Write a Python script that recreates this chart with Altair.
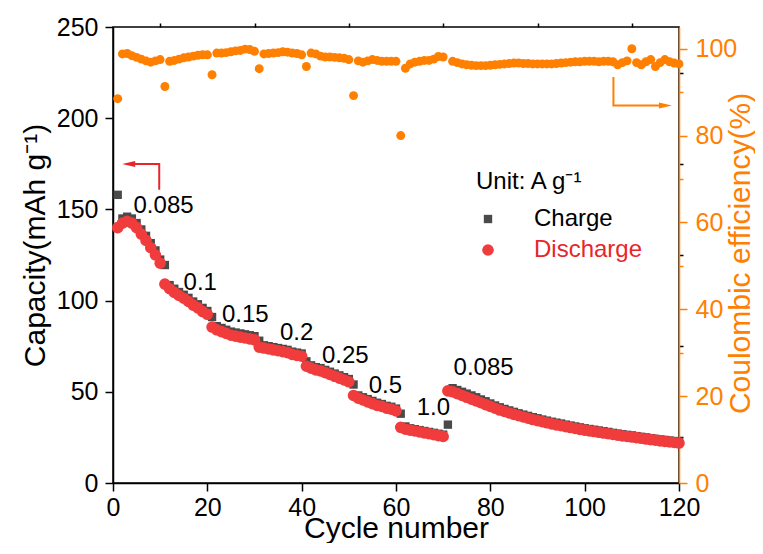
import altair as alt
import pandas as pd

# ---------------- data ----------------
cycles = list(range(1, 121))

discharge = [
    140, 142.5, 143.5, 142.5, 140, 136.5, 133, 129, 125, 120.5,
    109, 106.5, 104.5, 102.8, 101.3, 99.5, 97.5, 96, 94, 92.5,
    85.5, 84, 83, 82, 81, 80.5, 80, 79.5, 79, 78.5,
    74.5, 74, 73.5, 73, 72.5, 72, 71.5, 70.5, 70, 69.5,
    64, 63, 62, 61.5, 60.5, 59.5, 58.5, 57.5, 56.5, 55.5,
    48, 46.5, 45.5, 44.5, 43.5, 42.5, 42, 41, 40.5, 39.5,
    30.5, 29.5, 29, 28.5, 28, 27.5, 27, 26.5, 26, 25.5,
    50.5, 50, 49, 48, 47, 46, 45, 44, 43, 42,
    41, 40, 39.2, 38.4, 37.6, 36.9, 36.2, 35.5, 34.8, 34.2,
    33.6, 33, 32.4, 31.9, 31.4, 30.9, 30.4, 29.9, 29.4, 29.0,
    28.6, 28.2, 27.8, 27.4, 27.0, 26.6, 26.2, 25.8, 25.5, 25.2,
    24.9, 24.5, 24.1, 23.8, 23.5, 23.1, 22.8, 22.5, 22.2, 21.9,
]

charge = [
    158, 145, 146, 145, 142.5, 139, 135.5, 131.5, 127.5, 122.5,
    119.5, 108.5, 106.5, 104.7, 103.2, 101.5, 99.5, 98, 96, 94.3,
    91, 86, 85, 84, 83, 82.5, 82, 81.5, 81, 80.5,
    78, 75.5, 75, 74.5, 74, 73.5, 73, 72, 71.5, 71,
    66.7, 64.5, 63.5, 63, 62, 61, 60, 59, 58, 57,
    54, 48, 47, 46, 45, 44, 43.3, 42.3, 41.8, 40.8,
    38, 31, 30, 29.5, 29, 28.5, 28, 27.5, 27, 26.5,
    32, 52, 51, 50, 49, 48, 47, 45.8, 44.8, 43.6,
    42.5, 41.5, 40.6, 39.8, 39, 38.2, 37.5, 36.8, 36.1, 35.5,
    34.8, 34.2, 33.6, 33.1, 32.6, 32, 31.5, 31, 30.5, 30,
    29.6, 29.2, 28.8, 28.4, 28, 27.5, 27.1, 26.7, 26.4, 26.1,
    25.7, 25.3, 25, 24.6, 24.2, 23.9, 23.6, 23.3, 23, 22.7,
]

coulombic = [
    88.5, 98.8, 98.9, 98.4, 98.0, 97.6, 97.2, 96.9, 97.2, 97.5,
    91.3, 97.1, 97.3, 97.6, 97.9, 98.1, 98.3, 98.5, 98.6, 98.6,
    94.0, 99.0, 99.0, 99.1, 99.3, 99.5, 99.6, 99.9, 99.8, 99.4,
    95.4, 98.8, 98.9, 99.0, 99.1, 99.3, 99.2, 99.0, 98.9, 98.6,
    95.9, 99.0, 98.8, 98.3, 98.1, 98.1, 98.0, 97.9, 97.8, 97.5,
    89.2, 97.2, 96.9, 97.2, 97.5, 97.3, 97.1, 97.1, 97.1, 97.1,
    80.0, 95.5, 96.5, 96.9, 97.1, 97.3, 97.3, 97.6, 98.2, 98.1,
    None, 97.1, 96.8, 96.5, 96.3, 96.2, 96.1, 96.1, 96.1, 96.2,
    96.3, 96.4, 96.5, 96.6, 96.7, 96.7, 96.6, 96.6, 96.5, 96.5,
    96.5, 96.5, 96.5, 96.6, 96.7, 96.8, 96.9, 97.0, 97.0, 97.1,
    97.1, 97.1, 97.0, 97.1, 97.1, 97.0, 96.3, 96.8, 97.2, 100.0,
    96.8, 96.3, 97.0, 97.5, 95.9, 96.8, 97.5, 97.0, 96.7, 96.5,
]

series_names = ["Charge", "Discharge"]

rate_labels = ["0.085", "0.1", "0.15", "0.2", "0.25", "0.5", "1.0", "0.085"]
rate_label_cycle = [4.35, 14.96, 23.1, 35.4, 44.3, 54.2, 64.4, 72.2]
rate_label_capacity = [147.9, 105.8, 88.0, 78.4, 65.6, 49.2, 37.3, 59.2]

# arrow annotations (data coordinates)
red_arrow_cycle = [9.8, 9.8, 3.6]
red_arrow_capacity = [160.8, 174.9, 174.9]
red_head_cycle = [1.95]
red_head_capacity = [174.9]

orange_arrow_cycle = [106.1, 106.1, 116.3]
orange_arrow_ce = [93.5, 86.9, 86.9]
orange_head_cycle = [118.5]
orange_head_ce = [86.9]

x_major = list(range(0, 121, 20))
x_minor = list(range(10, 120, 20))
cap_major = list(range(0, 251, 50))
cap_minor = list(range(25, 250, 50))
ce_major = list(range(0, 101, 20))
ce_minor = list(range(10, 100, 20))

# ---------------- style ----------------
FONT = "Liberation Sans"
ORANGE = "#FF8000"
RED = "#F03C3C"
GRAY = "#4A4A4A"

cap_df = pd.DataFrame({
    "cycle": cycles * 2,
    "capacity": charge + discharge,
    "series": [series_names[0]] * len(cycles) + [series_names[1]] * len(cycles),
    "ord": list(range(2 * len(cycles))),
})
ce_df = pd.DataFrame({"cycle": cycles, "ce": coulombic}).dropna()
lab_df = pd.DataFrame({"cycle": rate_label_cycle, "capacity": rate_label_capacity, "text": rate_labels})
ra_df = pd.DataFrame({"cycle": red_arrow_cycle, "capacity": red_arrow_capacity, "o": [0, 1, 2]})
rh_df = pd.DataFrame({"cycle": red_head_cycle, "capacity": red_head_capacity})
oa_df = pd.DataFrame({"cycle": orange_arrow_cycle, "ce": orange_arrow_ce, "o": [0, 1, 2]})
oh_df = pd.DataFrame({"cycle": orange_head_cycle, "ce": orange_head_ce})

xscale = alt.Scale(domain=[0, 120], nice=False, zero=False)
cscale = alt.Scale(domain=[0, 250], nice=False)
escale = alt.Scale(domain=[0, 105], nice=False)

common = dict(grid=False, labelOverlap=False, tickWidth=1.5)

x_axis = alt.Axis(
    values=x_major, tickSize=8,
    title="Cycle number", titleFontSize=30, titleFontWeight="normal", titleColor="black",
    titleY=54, titleBaseline="alphabetic",
    labelFlush=False, labelFontSize=25, labelColor="black", labelPadding=4,
    domainColor="black", domainWidth=1.5, tickColor="black", **common,
)
x_minor_axis = alt.Axis(
    values=x_minor, tickSize=4, labels=False, domain=False, title=None,
    tickColor="black", **common,
)
cap_axis = alt.Axis(
    values=cap_major, tickSize=8,
    title="Capacity(mAh g\u207b\u00b9)", titleFontSize=30, titleFontWeight="normal", titleColor="black",
    titleAngle=270, titleX=-69, titleY=218, titleBaseline="alphabetic", titleAlign="center",
    labelFontSize=25, labelColor="black", labelPadding=7,
    domainColor="black", domainWidth=1.5, tickColor="black", **common,
)
cap_minor_axis = alt.Axis(
    values=cap_minor, tickSize=4, labels=False, domain=False, title=None,
    tickColor="black", **common,
)
ce_axis = alt.Axis(
    orient="right", values=ce_major, tickSize=8,
    title="Coulombic efficiency(%)", titleFontSize=30, titleFontWeight="normal", titleColor=ORANGE,
    titleAngle=270, titleX=70, titleY=226, titleBaseline="alphabetic", titleAlign="center",
    labelFontSize=25, labelColor=ORANGE, labelPadding=8,
    domainColor=ORANGE, domainWidth=1.5, tickColor=ORANGE, **common,
)
ce_minor_axis = alt.Axis(
    orient="right", values=ce_minor, tickSize=4, labels=False, domain=False, title=None,
    tickColor=ORANGE, **common,
)

legend = alt.Legend(
    title="Unit: A g\u207b\u00b9", orient="none", legendX=363, legendY=143,
    titleFontSize=24, titleFontWeight="normal", titleColor="black", titlePadding=13,
    labelFontSize=24, labelOffset=34, rowPadding=7, symbolSize=90, padding=0,
    labelColor=alt.ExprRef("datum.label === 'Discharge' ? '#E8262A' : 'black'"),
    symbolStrokeWidth=0,
)

points = alt.Chart(cap_df).mark_point(filled=True, opacity=1).encode(
    x=alt.X("cycle:Q", scale=xscale, axis=x_axis),
    y=alt.Y("capacity:Q", scale=cscale, axis=cap_axis),
    color=alt.Color("series:N", scale=alt.Scale(domain=series_names, range=[GRAY, RED]), legend=legend),
    shape=alt.Shape("series:N", scale=alt.Scale(domain=series_names, range=["square", "circle"]), legend=legend),
    size=alt.Size("series:N", scale=alt.Scale(domain=series_names, range=[70, 135]), legend=None),
    order=alt.Order("ord:Q"),
)

labels = alt.Chart(lab_df).mark_text(
    align="left", baseline="alphabetic", fontSize=24, font=FONT, color="black"
).encode(
    x=alt.X("cycle:Q", scale=xscale, axis=x_minor_axis),
    y=alt.Y("capacity:Q", scale=cscale, axis=cap_minor_axis),
    text="text:N",
)

red_line = alt.Chart(ra_df).mark_line(color="#E8262A", strokeWidth=2).encode(
    x=alt.X("cycle:Q", scale=xscale, axis=None),
    y=alt.Y("capacity:Q", scale=cscale, axis=None),
    order="o:Q",
)
red_head = alt.Chart(rh_df).mark_point(
    shape="M0,0 L2,-0.46 L2,0.46 Z", filled=True, opacity=1, size=169, color="#E8262A"
).encode(
    x=alt.X("cycle:Q", scale=xscale, axis=None),
    y=alt.Y("capacity:Q", scale=cscale, axis=None),
)

left = alt.layer(points, labels, red_line, red_head).resolve_axis(x="independent", y="independent")

ce_pts = alt.Chart(ce_df).mark_point(filled=True, opacity=1, size=80, color=ORANGE).encode(
    x=alt.X("cycle:Q", scale=xscale, axis=None),
    y=alt.Y("ce:Q", scale=escale, axis=ce_axis),
)
or_line = alt.Chart(oa_df).mark_line(color=ORANGE, strokeWidth=2).encode(
    x=alt.X("cycle:Q", scale=xscale, axis=None),
    y=alt.Y("ce:Q", scale=escale, axis=ce_minor_axis),
    order="o:Q",
)
or_head = alt.Chart(oh_df).mark_point(
    shape="M0,0 L-2,-0.46 L-2,0.46 Z", filled=True, opacity=1, size=169, color=ORANGE
).encode(
    x=alt.X("cycle:Q", scale=xscale, axis=None),
    y=alt.Y("ce:Q", scale=escale, axis=None),
)

right = alt.layer(ce_pts, or_line, or_head).resolve_axis(y="independent")

chart = alt.layer(left, right).resolve_scale(y="independent").properties(
    width=566, height=456,
    autosize=alt.AutoSizeParams(type="none"),
    padding={"left": 105, "top": 19, "right": 76, "bottom": 60},
    background="white",
).configure(font=FONT).configure_view(stroke="black", strokeWidth=1.5)

chart.save("out.html", embed_options={"renderer": "svg", "actions": False})
